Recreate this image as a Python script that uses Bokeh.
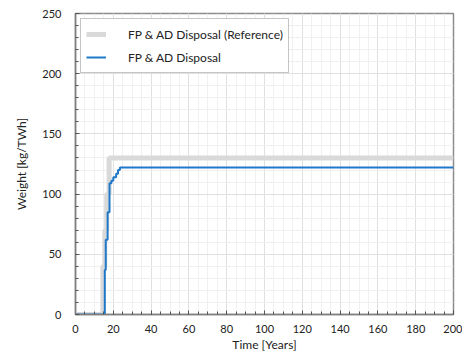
from bokeh.plotting import figure
from bokeh.models import Range1d, FixedTicker, Legend, LegendItem
from bokeh.embed import file_html
from bokeh.resources import INLINE

# Data
ref_years = [0, 14.5, 15.5, 16.5, 17.8, 200]
ref_values = [0, 40, 70, 100, 130, 130]
disp_years = [0, 15.5, 16.0, 17.0, 18.0, 19.0, 20.0, 21.5, 22.5, 23.5, 200]
disp_values = [0, 37, 62, 85, 109, 111, 114, 117, 120, 122, 122]

x_ticks = [0, 20, 40, 60, 80, 100, 120, 140, 160, 180, 200]
y_ticks = [0, 50, 100, 150, 200, 250]

FONT = "Lato"

p = figure(width=462, height=354, output_backend="svg", toolbar_location=None,
           x_range=Range1d(0, 200), y_range=Range1d(0, 250),
           min_border_left=75, min_border_right=9, min_border_top=13, min_border_bottom=40)

r1 = p.step(ref_years, ref_values, mode="after", line_color="#d9d9d9", line_width=5)
r2 = p.step(disp_years, disp_values, mode="after", line_color="#1f78c8", line_width=2)

p.outline_line_color = "#8c8c8c"
p.outline_line_width = 1.5

for ax in (p.xaxis[0], p.yaxis[0]):
    ax.axis_line_color = "#7f7f7f"
    ax.axis_line_width = 1.5
    ax.major_tick_in = 4
    ax.major_tick_out = 0
    ax.minor_tick_in = 3
    ax.minor_tick_out = 0
    ax.major_tick_line_color = "#555555"
    ax.minor_tick_line_color = "#555555"
    ax.major_label_text_font = FONT
    ax.major_label_text_font_size = "11px"
    ax.major_label_text_color = "#222222"
    ax.axis_label_text_font = FONT
    ax.axis_label_text_font_size = "12px"
    ax.axis_label_text_font_style = "normal"
    ax.axis_label_text_color = "#222222"

p.xaxis.ticker = FixedTicker(ticks=x_ticks, minor_ticks=list(range(0, 201, 5)))
p.yaxis.ticker = FixedTicker(ticks=y_ticks, minor_ticks=list(range(0, 251, 10)))
p.xaxis.axis_label = "Time [Years]"
p.yaxis.axis_label = "Weight [kg/TWh]"
p.xaxis.major_label_standoff = 10
p.yaxis.major_label_standoff = 14
p.xaxis.axis_label_standoff = 1
p.yaxis.axis_label_standoff = 10

p.xgrid.grid_line_color = "#e0e0e0"
p.ygrid.grid_line_color = "#e0e0e0"
p.xgrid.minor_grid_line_color = "#f0f0f0"
p.ygrid.minor_grid_line_color = "#f0f0f0"

legend = Legend(items=[LegendItem(label="FP & AD Disposal (Reference)", renderers=[r1]),
                       LegendItem(label="FP & AD Disposal", renderers=[r2])],
                location="top_left")
legend.label_text_font = FONT
legend.label_text_font_size = "12px"
legend.label_text_color = "#222222"
legend.border_line_color = "#8c8c8c"
legend.border_line_width = 1
legend.glyph_width = 20
legend.glyph_height = 20
legend.label_height = 20
legend.spacing = 3
legend.padding = 5
legend.margin = 5
legend.label_standoff = 22
p.add_layout(legend)

open("out.html", "w").write(file_html(p, INLINE))
